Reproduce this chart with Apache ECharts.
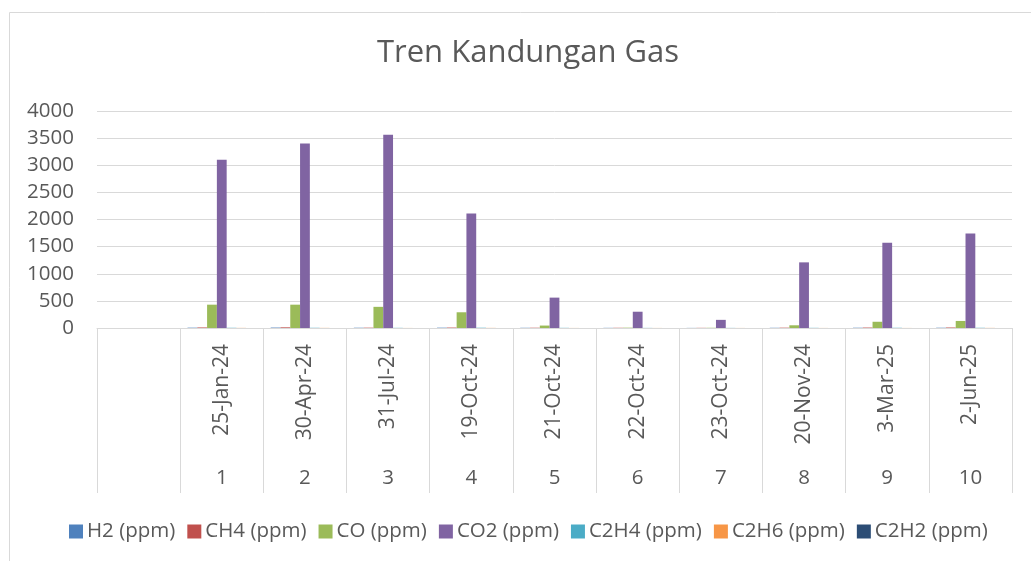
<!DOCTYPE html>
<html>
<head>
<meta charset="utf-8">
<script src="https://cdn.jsdelivr.net/npm/echarts@6/dist/echarts.min.js"></script>
<style>
  html, body { margin: 0; padding: 0; background: #fff; }
  #chart { width: 1031px; height: 561px; }
</style>
</head>
<body>
<div id="chart"></div>
<script>
// first slot is empty in the source sheet
var dates = ['', '25-Jan-24', '30-Apr-24', '31-Jul-24', '19-Oct-24', '21-Oct-24', '22-Oct-24', '23-Oct-24', '20-Nov-24', '3-Mar-25', '2-Jun-25']
var numbers = ['', '1', '2', '3', '4', '5', '6', '7', '8', '9', '10']

var h2 = ['-', 6, 8, 5, 6, 4, 3, 2, 4, 5, 5]
var ch4 = ['-', 10, 12, 6, 8, 5, 4, 3, 6, 8, 9]
var co = ['-', 430, 430, 390, 290, 45, 6, 4, 50, 115, 130]
var co2 = ['-', 3100, 3400, 3560, 2110, 560, 300, 150, 1210, 1570, 1740]
var c2h4 = ['-', 4, 4, 3, 5, 3, 2, 2, 3, 4, 4]
var c2h6 = ['-', 2, 2, 1, 2, 1, 1, 1, 1, 1, 2]
var c2h2 = ['-', 0, 0, 0, 0, 0, 0, 0, 0, 0, 0]

var seriesNames = ['H2 (ppm)', 'CH4 (ppm)', 'CO (ppm)', 'CO2 (ppm)', 'C2H4 (ppm)', 'C2H6 (ppm)', 'C2H2 (ppm)']
var seriesValues = [h2, ch4, co, co2, c2h4, c2h6, c2h2]

var font = 'Open Sans'
var textColor = '#595959'
var lineColor = '#d9d9d9'

var series = seriesNames.map(function (name, i) {
  return {
    name: name,
    type: 'bar',
    data: seriesValues[i],
    barGap: 0,
    barCategoryGap: '17.6%'
  }
})

var myChart = echarts.init(document.getElementById('chart'))
myChart.setOption({
  animation: false,
  color: ['#4f81bd', '#c0504d', '#9bbb59', '#8064a2', '#4bacc6', '#f79646', '#2c4d75'],
  textStyle: { fontFamily: font },
  title: {
    text: 'Tren Kandungan Gas',
    left: 523,
    textAlign: 'center',
    top: 33,
    textStyle: { fontFamily: font, fontSize: 31, fontWeight: 'normal', color: textColor }
  },
  graphic: [{
    type: 'rect',
    shape: { x: 9.5, y: 12.5, width: 1030, height: 560 },
    style: { fill: 'none', stroke: lineColor, lineWidth: 1 },
    silent: true
  }],
  legend: {
    bottom: 14,
    left: 64,
    itemWidth: 14,
    itemHeight: 14,
    itemGap: 12,
    icon: 'rect',
    textStyle: { fontFamily: font, fontSize: 20.5, color: textColor, padding: [0, 0, 0, -1] },
    data: seriesNames
  },
  grid: {
    left: 97,
    right: 19,
    top: 111,
    bottom: 233
  },
  xAxis: [{
    type: 'category',
    data: dates,
    position: 'bottom',
    axisLine: { lineStyle: { color: lineColor } },
    axisTick: { show: true, interval: 0, length: 165, lineStyle: { color: lineColor } },
    axisLabel: {
      interval: 0,
      rotate: 90,
      margin: 16,
      fontFamily: font,
      fontSize: 21,
      color: textColor
    }
  }, {
    type: 'category',
    data: numbers,
    position: 'bottom',
    axisLine: { show: false },
    axisTick: { show: false },
    axisLabel: {
      interval: 0,
      margin: 140,
      fontFamily: font,
      fontSize: 20.5,
      color: textColor
    }
  }],
  yAxis: {
    type: 'value',
    min: 0,
    max: 4000,
    interval: 500,
    axisLine: { show: false },
    axisTick: { show: false },
    splitLine: { lineStyle: { color: lineColor } },
    axisLabel: {
      margin: 23,
      fontFamily: font,
      fontSize: 20.5,
      color: textColor,
      formatter: function (v) { return String(v) }
    }
  },
  series: series
}, true)
</script>
</body>
</html>
